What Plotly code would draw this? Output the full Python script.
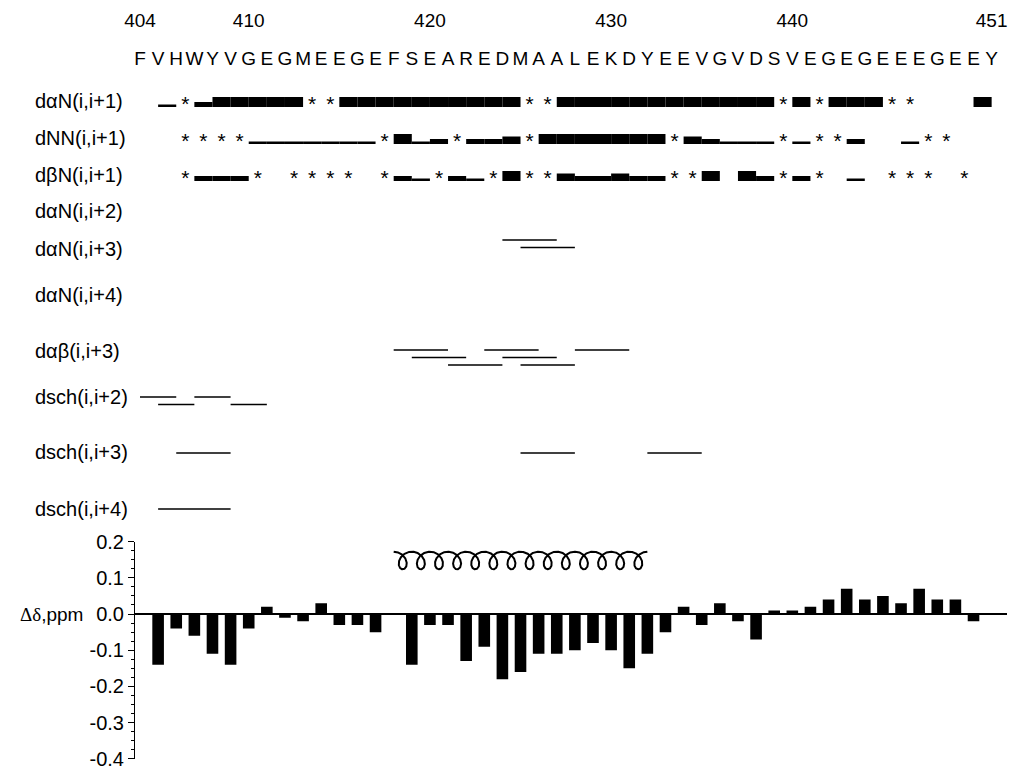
import numpy as np
import plotly.graph_objects as go

# ---------------------------------------------------------------- data
first_residue = 404
sequence = list("FVHWYVGEGMEEGEFSEAREDMAALEKDYEEVGVDSVEGEGEEEGEEY")
residue_numbers = list(range(404, 452))
number_ticks = [404, 410, 420, 430, 440, 451]

row_labels = [
    "dαN(i,i+1)", "dNN(i,i+1)", "dβN(i,i+1)",
    "dαN(i,i+2)", "dαN(i,i+3)", "dαN(i,i+4)",
    "dαβ(i,i+3)", "dsch(i,i+2)", "dsch(i,i+3)", "dsch(i,i+4)",
]

# sequential NOEs, one entry per step i -> i+1 starting at residue 404
# 0 = not observed, 1 = weak, 2 = medium, 3 = medium-strong, 4 = strong,
# "*" = not assignable because of overlap
dan_i1 = [0, 1, "*", 2, 4, 4, 4, 4, 4, "*", "*",
          4, 4, 4, 4, 4, 4, 4, 4, 4, 4, "*", "*",
          4, 4, 4, 4, 4, 4, 4, 4, 4, 4, 4, 4, "*", 4, "*",
          4, 4, 4, "*", "*", 0, 0, 0, 4]
dnn_i1 = [0, 0, "*", "*", "*", "*", 1, 1, 1, 1, 1, 1, 1, "*",
          4, 1, 2, "*", 2, 2, 3, "*", 4, 4, 4, 4, 4, 4, 4, "*",
          3, 2, 1, 1, 1, "*", 1, "*", "*", 2, 0, 0, 1, "*", "*", 0, 0]
dbn_i1 = [0, 0, "*", 2, 2, 2, "*", 0, "*", "*", "*", "*", 0, "*",
          2, 1, "*", 2, 1, "*", 4, "*", "*", 3, 2, 2, 3, 2, 2, "*", "*",
          4, 0, 4, 2, "*", 2, "*", 0, 1, 0, "*", "*", "*", 0, "*", 0]

# medium-range NOEs: starting residue i of each (i, i+n) contact
dan_i2 = []
dan_i3 = [424, 425]
dan_i4 = []
dab_i3 = [418, 419, 421, 423, 424, 425, 428]
dsch_i2 = [404, 405, 407, 409]
dsch_i3 = [406, 425, 432]
dsch_i4 = [405]

# helix from the NOE pattern
helix_start, helix_end = 418, 432

# chemical-shift deviations, residues 405..450 (418 not measured)
shift_residues = list(range(405, 451))
shift_values = [-0.14, -0.04, -0.06, -0.11, -0.14, -0.04, 0.02, -0.01, -0.02,
                0.03, -0.03, -0.03, -0.05, None,
                -0.14, -0.03, -0.03, -0.13, -0.09, -0.18, -0.16, -0.11, -0.11,
                -0.10, -0.08, -0.10, -0.15, -0.11, -0.05, 0.02, -0.03, 0.03,
                -0.02, -0.07, 0.01, 0.01, 0.02, 0.04, 0.07, 0.04, 0.05, 0.03,
                0.07, 0.04, 0.04, -0.02]
shift_ticks = [0.2, 0.1, 0.0, -0.1, -0.2, -0.3, -0.4]
shift_tick_text = ["0.2", "0.1", "0.0", "-0.1", "-0.2", "-0.3", "-0.4"]

# ---------------------------------------------------------------- layout
W, H = 1015, 769
X_FIRST = 140.0        # pixel column of residue 404
PX_PER_RES = 18.12
SANS = "Liberation Sans, Arial, sans-serif"
NARROW = "Liberation Sans Narrow, Liberation Sans, Arial, sans-serif"
INK = "black"

NUMBER_Y, LETTER_Y = 22, 60
LABEL_Y = [101, 138, 175, 211, 249, 295, 351, 397, 452, 509]
SEQ_BASE_OFFSET = 6          # bar baseline below row centre
STAR_SIZE = 21
STAR_OFFSET = 5
LEVEL_HEIGHT = {1: 2.5, 2: 5.0, 3: 7.5, 4: 10.0}
LANE_TOP = {3: 211, 4: 240, 5: 295, 6: 350, 7: 397, 8: 453, 9: 509}
LANE_GAP = 7.5

SHIFT_TOP_PX, SHIFT_BOTTOM_PX = 541.5, 759.0
AXIS_LEFT_PX, AXIS_RIGHT_PX = 135.0, 1007.0
Y_MIN, Y_MAX = -0.4, 0.2


def res_at(px):
    return first_residue + (px - X_FIRST) / PX_PER_RES


fig = go.Figure()

# residue numbers and one-letter sequence
fig.add_trace(go.Scatter(
    x=number_ticks, y=[NUMBER_Y] * len(number_ticks), mode="text",
    text=[str(n) for n in number_ticks], textposition="middle center",
    textfont=dict(family=NARROW, size=19, color=INK), cliponaxis=False,
    hoverinfo="skip"))
fig.add_trace(go.Scatter(
    x=residue_numbers, y=[LETTER_Y] * len(residue_numbers), mode="text",
    text=sequence, textposition="middle center",
    textfont=dict(family=SANS, size=19, color=INK), cliponaxis=False,
    hoverinfo="skip"))

# sequential connectivities
for row, series in enumerate([dan_i1, dnn_i1, dbn_i1]):
    base = LABEL_Y[row] + SEQ_BASE_OFFSET
    bx, by = [], []
    sx = []
    for k, v in enumerate(series):
        i = first_residue + k
        if v == "*":
            sx.append(i + 0.5)
        elif v:
            bx.append(i + 0.5)
            by.append(-LEVEL_HEIGHT[v])
    fig.add_trace(go.Bar(
        x=bx, y=by, base=[base] * len(bx), width=1.0,
        marker=dict(color=INK, line=dict(width=0)), hoverinfo="skip"))
    fig.add_trace(go.Scatter(
        x=sx, y=[LABEL_Y[row] + STAR_OFFSET] * len(sx), mode="text",
        text=["*"] * len(sx), textposition="middle center",
        textfont=dict(family=SANS, size=STAR_SIZE, color=INK),
        cliponaxis=False, hoverinfo="skip"))

# medium-range connectivities, stacked in lanes so lines do not overlap
medium_rows = {3: (dan_i2, 2), 4: (dan_i3, 3), 5: (dan_i4, 4), 6: (dab_i3, 3),
               7: (dsch_i2, 2), 8: (dsch_i3, 3), 9: (dsch_i4, 4)}
for row, (starts, span) in medium_rows.items():
    lane_end = []
    lx, ly = [], []
    for i in sorted(starts):
        lane = next((n for n, e in enumerate(lane_end) if i > e), len(lane_end))
        if lane == len(lane_end):
            lane_end.append(i + span)
        else:
            lane_end[lane] = i + span
        y = LANE_TOP[row] + lane * LANE_GAP
        lx += [i, i + span, None]
        ly += [y, y, None]
    if lx:
        fig.add_trace(go.Scatter(
            x=lx, y=ly, mode="lines", line=dict(color=INK, width=1.6),
            cliponaxis=False, hoverinfo="skip"))

# helix symbol: one loop per residue
n_loops = helix_end - helix_start
t = np.linspace(-np.pi, (2 * n_loops - 1) * np.pi, 3000)
loop_half_width = 8.0 / PX_PER_RES
hx = helix_start + 0.5 + t / (2 * np.pi) - loop_half_width * np.sin(t)
hy = 560.5 + 8.8 * np.cos(t)
fig.add_trace(go.Scatter(x=hx, y=hy, mode="lines",
                         line=dict(color=INK, width=2), hoverinfo="skip"))

# chemical shift deviation bars
fig.add_trace(go.Bar(
    x=shift_residues, y=shift_values, width=0.64, xaxis="x2", yaxis="y2",
    marker=dict(color=INK, line=dict(width=0)), hoverinfo="skip"))

annotations = [
    dict(x=33 / W, y=1 - yl / H, xref="paper", yref="paper", text=lab,
         xanchor="left", yanchor="middle", showarrow=False,
         font=dict(family=SANS, size=20, color=INK))
    for lab, yl in zip(row_labels, LABEL_Y)
]
zero_px = SHIFT_TOP_PX + (SHIFT_BOTTOM_PX - SHIFT_TOP_PX) * Y_MAX / (Y_MAX - Y_MIN)
annotations.append(dict(
    x=85 / W, y=1 - zero_px / H, xref="paper", yref="paper",
    text='<span style="font-family:Liberation Serif, Times New Roman, serif">Δδ</span>,ppm',
    xanchor="right", yanchor="middle", showarrow=False,
    font=dict(family=SANS, size=19, color=INK)))

pad = 1e-4
fig.update_layout(
    width=W, height=H, margin=dict(l=0, r=0, t=0, b=0),
    template="none", paper_bgcolor="white", plot_bgcolor="rgba(0,0,0,0)",
    showlegend=False, barmode="overlay", annotations=annotations,
    xaxis=dict(domain=[0, 1], range=[res_at(0), res_at(W)], visible=False),
    yaxis=dict(domain=[0, 1], range=[H, 0], visible=False),
    xaxis2=dict(domain=[AXIS_LEFT_PX / W, AXIS_RIGHT_PX / W],
                range=[res_at(AXIS_LEFT_PX), res_at(AXIS_RIGHT_PX)],
                anchor="y2", showline=False, showticklabels=False,
                ticks="", showgrid=False, zeroline=False),
    yaxis2=dict(domain=[1 - SHIFT_BOTTOM_PX / H, 1 - SHIFT_TOP_PX / H],
                range=[Y_MIN - pad, Y_MAX + pad], anchor="x2", showline=True,
                linecolor=INK, linewidth=1, ticks="outside", ticklen=6,
                tickwidth=1, tickcolor=INK, tickvals=shift_ticks,
                ticktext=shift_tick_text, showgrid=False,
                ticklabeloverflow="allow",
                zeroline=True, zerolinecolor=INK, zerolinewidth=1.5,
                minor=dict(ticks="outside", ticklen=3, tickcolor=INK,
                           dtick=0.025, showgrid=False),
                tickfont=dict(family=SANS, size=20, color=INK)),
)

fig.write_html("out.html")
